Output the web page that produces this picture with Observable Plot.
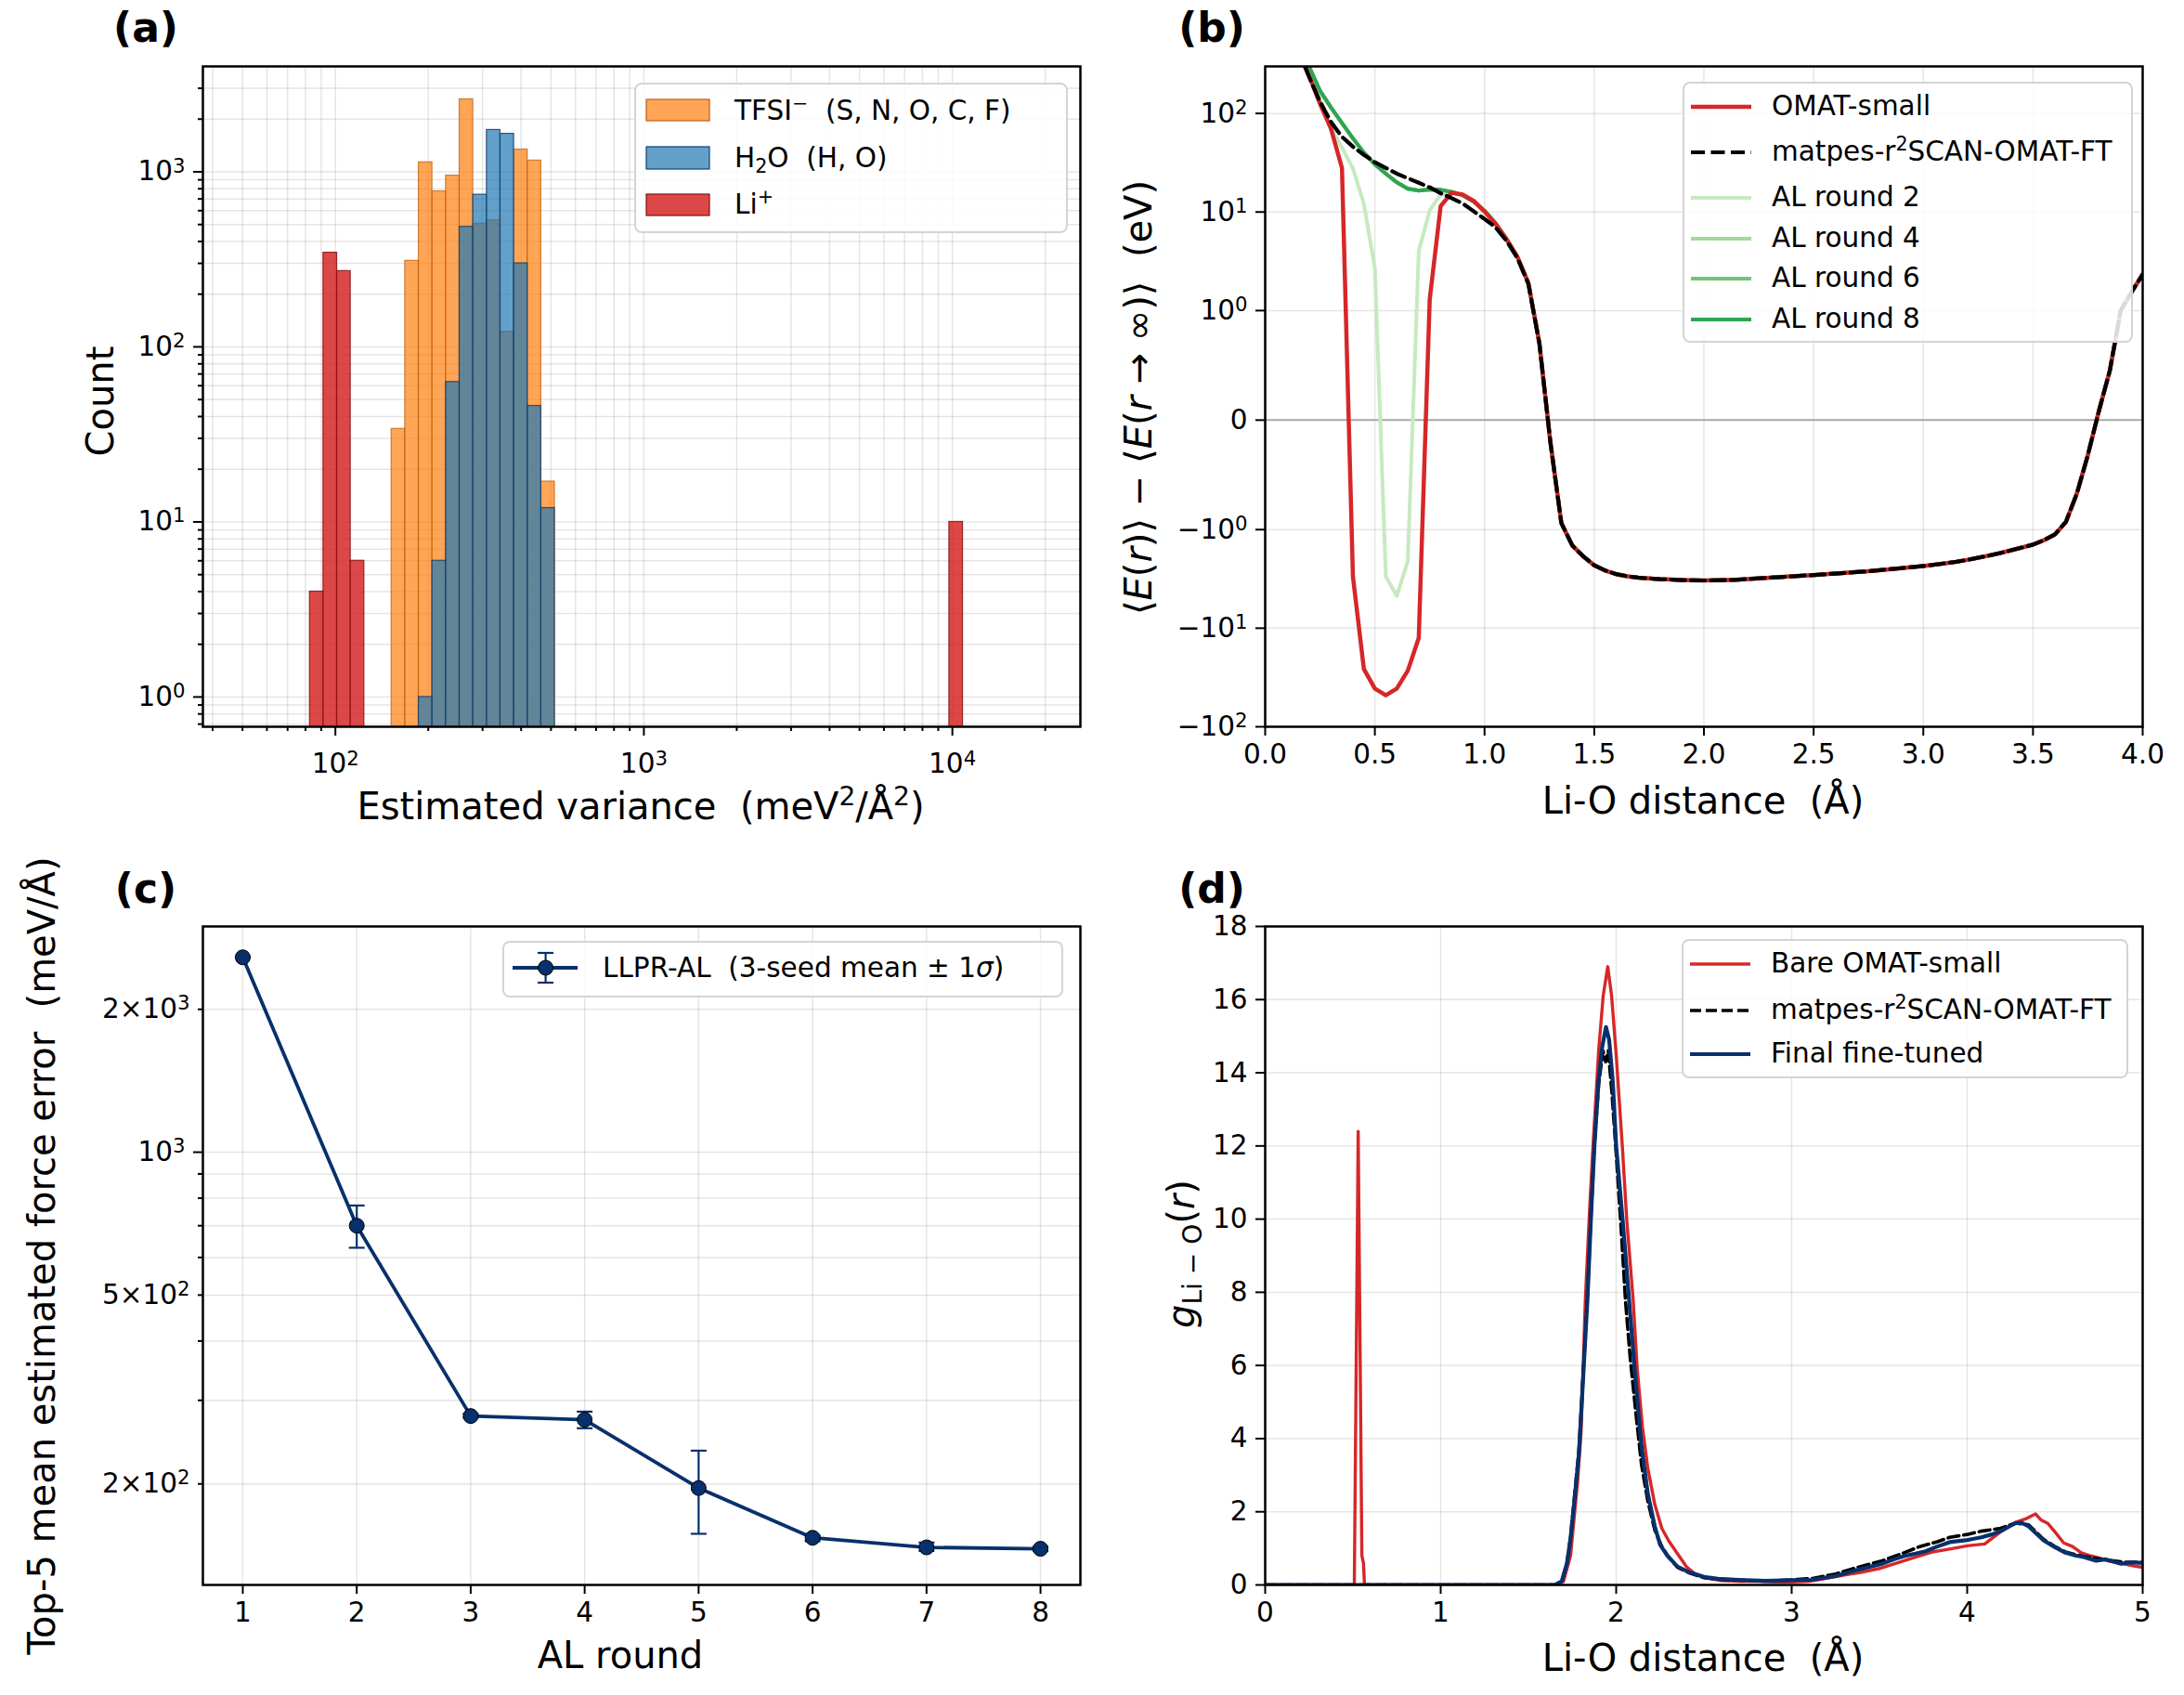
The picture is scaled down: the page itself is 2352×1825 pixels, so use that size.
<!DOCTYPE html>
<html><head><meta charset="utf-8">
<script src="https://cdn.jsdelivr.net/npm/d3@7"></script>
<script src="https://cdn.jsdelivr.net/npm/@observablehq/plot@0.6"></script>
<style>
body{margin:0;background:#fff;}
#fig{position:relative;width:2352px;height:1825px;font-family:"DejaVu Sans",sans-serif;color:#000;overflow:hidden;background:#fff}
.lab{position:absolute;white-space:pre;transform:translate(-50%,-50%);font-size:40px;line-height:1}
.rot{transform:translate(-50%,-50%) rotate(-90deg)}
.plab{position:absolute;font-weight:bold;font-size:44px;transform:translate(-50%,-50%);line-height:0.8}
.leg{position:absolute;background:rgba(255,255,255,0.85);border:2px solid #d4d4d4;border-radius:8px;box-sizing:border-box}
.lt{position:absolute;font-size:29.5px;white-space:pre;transform:translateY(-50%);line-height:1}
sup{font-size:70%;vertical-align:0.55em;line-height:0}
sub{font-size:70%;vertical-align:-0.3em;line-height:0}
</style></head><body><div id="fig"></div><script>
// ---------------- DATA ----------------
// (a) histogram of estimated variance, shared log-spaced bins
const tfsiLo = [152.1,168.4,186.4,206.3,228.4,252.8,279.8,309.8,342.8,379.5,420.1,464.9];
const tfsiHi = [168.4,186.4,206.3,228.4,252.8,279.8,309.8,342.8,379.5,420.1,464.9,514.6];
const tfsiCount = [34,310,1133,774,951,2595,505,528,122,1340,1159,17];
const h2oLo = [186.4,206.3,228.4,252.8,279.8,309.8,342.8,379.5,420.1,464.9];
const h2oHi = [206.3,228.4,252.8,279.8,309.8,342.8,379.5,420.1,464.9,514.6];
const h2oCount = [1,6,63,485,740,1734,1648,300,46,12];
const liLo = [82.7,91.5,101.3,112.1,9777];
const liHi = [91.5,101.3,112.1,124.1,10822];
const liCount = [4,345,271,6,10];

// (b) binding curves (eV) on r grid (Å)
const rB = [0.15,0.20,0.25,0.30,0.35,0.40,0.45,0.50,0.55,0.60,0.65,0.70,0.75,0.80,0.85,0.90,0.95,1.00,1.05,1.10,1.15,1.20,
 1.25,1.30,1.35,1.40,1.45,1.50,1.55,1.60,1.65,1.70,1.75,1.80,1.85,1.90,1.95,2.00,2.05,2.10,2.15,2.20,2.25,2.30,2.35,2.40,2.45,2.50,
 2.55,2.60,2.65,2.70,2.75,2.80,2.85,2.90,2.95,3.00,3.05,3.10,3.15,3.20,3.25,3.30,3.35,3.40,3.45,3.50,3.55,3.60,3.65,3.70,3.75,3.80,3.85,3.90,3.95,4.00];
const tailB = [0.7,-0.2,-0.94,-1.45,-1.87,-2.3,-2.6,-2.83,-2.97,-3.07,-3.13,-3.18,-3.21,-3.25,-3.27,-3.28,-3.27,-3.25,-3.22,-3.17,-3.12,-3.07,-3.03,-2.98,-2.93,-2.89,
 -2.84,-2.79,-2.74,-2.69,-2.64,-2.58,-2.52,-2.46,-2.40,-2.34,-2.27,-2.20,-2.12,-2.03,-1.93,-1.83,-1.73,-1.62,-1.52,-1.42,-1.28,-1.12,-0.93,-0.67,-0.32,0.08,0.45,1.0,1.55,2.33];
const omatHead = [420,240,125,70,28,-3.0,-26,-41,-48,-41,-27,-12.6,1.3,11.5,15.7,15.0,13.0,10.1,7.6,5.3,3.5,1.9];
const matpesHead = [450,235,132,82,58,46,38,32,28,24.5,22,19.8,17.8,15.5,13.8,12.2,10.2,8.5,7.0,5.1,3.4,1.85];
const al2Head = [480,260,140,72,45,27.7,12.1,2.7,-3.0,-4.7,-2.1,4.0,10.4,15.0,15.7,15.0,13.0,10.1,7.6,5.3,3.5,1.9];
const al4Head = [515,298,168,114,79,55.5,40,30.5,24.5,20,17.3,16.6,16.9,16.8,16.0,14.8,12.8,10.3,7.7,5.35,3.5,1.9];
const al6Head = [518,299,169,115,80,56,40,30.5,24.5,20,17.2,16.5,16.9,16.8,16.0,14.8,12.8,10.3,7.7,5.35,3.5,1.9];
const al8Head = [520,300,170,115,80,56,40,30.5,24.5,20,17.2,16.5,16.9,16.8,16.0,14.8,12.8,10.3,7.7,5.35,3.5,1.9];

// (c) AL rounds
const rounds = [1,2,3,4,5,6,7,8];
const errMean = [2574,700,278,273,196,154,147,146];
const errLo = [2574,629,276,262,157,151.5,144.5,144.5];
const errHi = [2574,772,281,284,235,156,150.5,147.5];

// (d) RDF g_Li-O(r)
const rRed = [0,0.50,0.508,0.53,0.551,0.56,0.566,1.65,1.70,1.74,1.78,1.80,1.824,1.85,1.868,1.90,1.926,1.952,1.974,2.0,2.035,2.06,2.097,2.12,2.15,2.18,2.22,2.26,2.30,2.35,2.40,2.45,2.50,2.60,2.70,2.80,2.90,3.00,3.10,3.20,3.30,3.40,3.50,3.60,3.70,3.80,3.90,4.00,4.10,4.19,4.24,4.28,4.34,4.39,4.42,4.46,4.50,4.55,4.60,4.65,4.70,4.75,4.80,4.85,4.90,4.95,5.00];
const gRed = [0,0,0,12.4,0.8,0.6,0,0,0.1,0.8,2.8,4.2,7.77,10.4,12.0,14.6,16.1,16.9,16.1,14.5,12.0,10.0,7.77,5.9,4.3,3.2,2.2,1.55,1.2,0.85,0.5,0.3,0.2,0.12,0.1,0.1,0.08,0.08,0.1,0.18,0.27,0.35,0.45,0.6,0.75,0.9,0.98,1.07,1.12,1.45,1.6,1.72,1.82,1.94,1.78,1.68,1.45,1.15,1.05,0.88,0.8,0.74,0.66,0.62,0.57,0.52,0.48];
const rBlue = [0,1.65,1.69,1.72,1.74,1.76,1.788,1.81,1.836,1.856,1.876,1.90,1.92,1.942,1.96,1.98,2.0,2.04,2.08,2.11,2.144,2.18,2.22,2.25,2.29,2.35,2.42,2.50,2.58,2.70,2.85,3.0,3.11,3.25,3.375,3.45,3.516,3.58,3.64,3.70,3.763,3.83,3.90,3.99,4.08,4.14,4.19,4.24,4.276,4.31,4.35,4.39,4.435,4.50,4.56,4.62,4.66,4.735,4.79,4.876,4.94,5.0];
const gBlue = [0,0,0.1,0.6,1.28,2.2,3.6,5.5,7.77,10.0,12.0,13.8,14.7,15.25,14.9,13.8,12.0,9.8,7.4,5.6,3.8,2.5,1.6,1.1,0.81,0.5,0.34,0.22,0.17,0.14,0.11,0.13,0.14,0.24,0.41,0.5,0.58,0.7,0.79,0.85,0.92,1.05,1.17,1.22,1.3,1.38,1.47,1.6,1.69,1.7,1.6,1.42,1.22,1.03,0.88,0.8,0.77,0.66,0.7,0.58,0.62,0.6];
const rBlack = [0,1.65,1.69,1.72,1.74,1.76,1.788,1.81,1.836,1.856,1.876,1.90,1.925,1.94,1.955,1.975,2.0,2.03,2.053,2.08,2.11,2.144,2.18,2.22,2.26,2.30,2.35,2.42,2.50,2.60,2.75,2.90,3.0,3.12,3.25,3.375,3.516,3.64,3.73,3.83,3.90,4.0,4.08,4.19,4.276,4.35,4.435,4.50,4.56,4.66,4.8,4.9,5.0];
const gBlack = [0,0,0.1,0.6,1.3,2.3,3.7,5.6,7.9,10.1,12.0,13.7,14.6,14.3,14.6,13.5,11.8,9.6,7.77,6.2,4.8,3.3,2.3,1.5,1.05,0.75,0.48,0.32,0.2,0.15,0.12,0.12,0.14,0.18,0.3,0.48,0.66,0.88,1.05,1.18,1.3,1.38,1.47,1.55,1.69,1.64,1.25,1.05,0.9,0.78,0.68,0.62,0.62];

// ---------------- HELPERS ----------------
const fig = document.getElementById("fig");
const F = "DejaVu Sans";
const SUP = {"⁰":"0","¹":"1","²":"2","³":"3","⁴":"4"};
function supFix(svg){
  svg.querySelectorAll("text").forEach(t=>{
    const s = t.textContent;
    const m = s.match(/^(.*?)([⁰¹²³⁴]+)$/);
    if (!m) return;
    const digits = [...m[2]].map(c=>SUP[c]).join("");
    t.textContent = "";
    t.appendChild(document.createTextNode(m[1]));
    const ts = document.createElementNS("http://www.w3.org/2000/svg","tspan");
    ts.setAttribute("dy","-0.42em"); ts.setAttribute("font-size","0.72em"); ts.textContent = digits;
    t.appendChild(ts);
  });
}
function place(svg, left, top){ supFix(svg); svg.style.position="absolute"; svg.style.left=left+"px"; svg.style.top=top+"px"; fig.appendChild(svg); }
function el(cls, style, inner){ const e=document.createElement("div"); if(cls) e.className=cls; Object.assign(e.style, style); e.innerHTML=inner; fig.appendChild(e); return e; }
function svgEl(x,y,w,h,inner){ const e=document.createElement("div"); e.style.position="absolute"; e.style.left=x+"px"; e.style.top=y+"px"; e.innerHTML=`<svg width="${w}" height="${h}" style="display:block;overflow:visible">${inner}</svg>`; fig.appendChild(e); }
const baseStyle = {fontFamily: F, fontSize: "29.5px", background: "transparent", overflow: "visible", color: "black"};
const GRID = {stroke: "#000", strokeOpacity: 0.1, strokeWidth: 1.5};
const AX = {fontSize: 29.5, strokeWidth: 2, tickPadding: 9, label: null};
const none = () => "";
const supLab = {1:"10⁰",10:"10¹",100:"10²",1000:"10³",10000:"10⁴"};

// ---------------- PANEL (a) ----------------
const aMajX=[100,1000,10000];
const aMinX=[40,50,60,70,80,90,200,300,400,500,600,700,800,900,2000,3000,4000,5000,6000,7000,8000,9000,20000];
const aMajY=[1,10,100,1000];
const aMinY=[0.7,0.8,0.9,2,3,4,5,6,7,8,9,20,30,40,50,60,70,80,90,200,300,400,500,600,700,800,900,2000,3000];
const bars = (lo,hi,n) => lo.map((d,i)=>({lo:d,hi:hi[i],n:n[i]}));
place(Plot.plot({
  width:1176,height:913,marginLeft:218,marginRight:13,marginTop:71,marginBottom:131,
  x:{type:"log",domain:[37.2,26000]}, y:{type:"log",domain:[0.676,4000]}, style:baseStyle,
  marks:[
    Plot.gridX(aMajX.concat(aMinX), GRID),
    Plot.gridY(aMajY.concat(aMinY), GRID),
    Plot.rect(bars(tfsiLo,tfsiHi,tfsiCount),{x1:"lo",x2:"hi",y1:0.3,y2:"n",fill:"#ff7f0e",fillOpacity:0.7,stroke:"#c0600c",strokeOpacity:0.75,strokeWidth:1.2,clip:true}),
    Plot.rect(bars(h2oLo,h2oHi,h2oCount),{x1:"lo",x2:"hi",y1:0.3,y2:"n",fill:"#1f77b4",fillOpacity:0.7,stroke:"#173f6e",strokeOpacity:0.85,strokeWidth:1.2,clip:true}),
    Plot.rect(bars(liLo,liHi,liCount),{x1:"lo",x2:"hi",y1:0.3,y2:"n",fill:"#d62728",fillOpacity:0.85,stroke:"#8a1010",strokeOpacity:0.85,strokeWidth:1.2,clip:true}),
    Plot.axisX({...AX,ticks:aMajX,tickSize:10,tickPadding:19,tickFormat:d=>supLab[d]}),
    Plot.axisX({...AX,ticks:aMinX,tickSize:5,tickFormat:none}),
    Plot.axisY({...AX,ticks:aMajY,tickSize:10,tickFormat:d=>supLab[d]}),
    Plot.axisY({...AX,ticks:aMinY,tickSize:5,tickFormat:none}),
    Plot.frame({stroke:"black",strokeWidth:2.5})
  ]
}), 0, 0);

// ---------------- PANEL (b) ----------------
const LS = 1/(1-0.1);
const sym = v => Math.sign(v)*(Math.abs(v)<=1 ? Math.abs(v)*LS : LS+Math.log10(Math.abs(v)));
const bTickV = [-100,-10,-1,0,1,10,100];
const bTickL = ["−10²","−10¹","−10⁰","0","10⁰","10¹","10²"];
const bLabMap = new Map(bTickV.map((v,i)=>[sym(v).toFixed(5), bTickL[i]]));
const bX = [0,0.5,1,1.5,2,2.5,3,3.5,4];
const ser = head => rB.map((r,i)=>({r, v: head.concat(tailB)[i]}));
const lineB = (head, o) => Plot.line(ser(head), {x:"r", y:d=>sym(d.v), clip:true, strokeLinejoin:"round", ...o});
place(Plot.plot({
  width:1176,height:913,marginLeft:186,marginRight:45,marginTop:71,marginBottom:131,
  x:{domain:[0,4]}, y:{domain:[sym(-100), sym(300)]}, style:baseStyle,
  marks:[
    Plot.gridX(bX, GRID),
    Plot.gridY(bTickV.map(sym), GRID),
    Plot.ruleY([0], {stroke:"#a8a8a8", strokeWidth:2}),
    lineB(al2Head, {stroke:"#c7e9c0", strokeWidth:4}),
    lineB(al4Head, {stroke:"#a1d99b", strokeWidth:4}),
    lineB(al6Head, {stroke:"#74c476", strokeWidth:4}),
    lineB(al8Head, {stroke:"#31a354", strokeWidth:4}),
    lineB(omatHead, {stroke:"#d62728", strokeWidth:4.5}),
    lineB(matpesHead, {stroke:"#000", strokeWidth:4.2, strokeDasharray:"15,6.5"}),
    Plot.axisX({...AX,ticks:bX,tickSize:10,tickFormat:d3.format(".1f")}),
    Plot.axisY({...AX,ticks:bTickV.map(sym),tickSize:10,tickFormat:d=>bLabMap.get(d.toFixed(5))}),
    Plot.frame({stroke:"black",strokeWidth:2.5})
  ]
}), 1176, 0);

// ---------------- PANEL (c) ----------------
const cMinY=[300,400,600,700,800,900];
const capSym = {draw(ctx){ ctx.moveTo(-8.5,0); ctx.lineTo(8.5,0); }};
const cData = rounds.map((x,i)=>({x, m:errMean[i], lo:errLo[i], hi:errHi[i]}));
const cLab = {200:"2×10²",500:"5×10²",1000:"10³",2000:"2×10³"};
place(Plot.plot({
  width:1176,height:912,marginLeft:218,marginRight:13,marginTop:84,marginBottom:119,
  x:{domain:[0.65,8.35]}, y:{type:"log",domain:[122.5,2990]}, style:baseStyle,
  marks:[
    Plot.gridX(rounds, GRID),
    Plot.gridY([200,300,400,500,600,700,800,900,1000,2000], GRID),
    Plot.ruleX(cData,{x:"x",y1:"lo",y2:"hi",stroke:"#08306b",strokeWidth:2.2}),
    Plot.dot(cData,{x:"x",y:"lo",symbol:capSym,stroke:"#08306b",strokeWidth:2.2,fill:"none"}),
    Plot.dot(cData,{x:"x",y:"hi",symbol:capSym,stroke:"#08306b",strokeWidth:2.2,fill:"none"}),
    Plot.line(cData,{x:"x",y:"m",stroke:"#08306b",strokeWidth:3.8}),
    Plot.dot(cData,{x:"x",y:"m",r:8,fill:"#08306b",stroke:"#000",strokeWidth:1}),
    Plot.axisX({...AX,ticks:rounds,tickSize:10,tickFormat:d=>String(d)}),
    Plot.axisY({...AX,ticks:[1000],tickSize:10,tickFormat:d=>cLab[d]}),
    Plot.axisY({...AX,ticks:[200,500,2000],tickSize:5,tickFormat:d=>cLab[d]}),
    Plot.axisY({...AX,ticks:cMinY,tickSize:5,tickFormat:none}),
    Plot.frame({stroke:"black",strokeWidth:2.5})
  ]
}), 0, 913);

// ---------------- PANEL (d) ----------------
const dX=[0,1,2,3,4,5], dY=[0,2,4,6,8,10,12,14,16,18];
const pts = (r,g) => r.map((x,i)=>({x, g:g[i]}));
place(Plot.plot({
  width:1176,height:912,marginLeft:186,marginRight:45,marginTop:84,marginBottom:119,
  x:{domain:[0,5]}, y:{domain:[0,18]}, style:baseStyle,
  marks:[
    Plot.gridX(dX, GRID),
    Plot.gridY(dY, GRID),
    Plot.line(pts(rRed,gRed),{x:"x",y:"g",stroke:"#d62728",strokeWidth:3.4,clip:true}),
    Plot.line(pts(rBlack,gBlack),{x:"x",y:"g",stroke:"#000",strokeWidth:3.6,strokeDasharray:"12,5",clip:true}),
    Plot.line(pts(rBlue,gBlue),{x:"x",y:"g",stroke:"#08306b",strokeWidth:4.2,clip:true}),
    Plot.axisX({...AX,ticks:dX,tickSize:10,tickFormat:d=>String(d)}),
    Plot.axisY({...AX,ticks:dY,tickSize:10,tickFormat:d=>String(d)}),
    Plot.frame({stroke:"black",strokeWidth:2.5})
  ]
}), 1176, 913);

// ---------------- TEXT: panel labels & axis labels ----------------
el("plab",{left:"157px",top:"30px"},"(a)");
el("plab",{left:"1305px",top:"30px"},"(b)");
el("plab",{left:"157px",top:"957px"},"(c)");
el("plab",{left:"1305px",top:"957px"},"(d)");
el("lab",{left:"690px",top:"868px"},"Estimated variance  (meV<sup>2</sup>/Å<sup>2</sup>)");
el("lab rot",{left:"108px",top:"432px"},"Count");
el("lab",{left:"1834px",top:"862px"},"Li-O distance  (Å)");
el("lab rot",{left:"1226px",top:"428px"},"⟨<i>E</i>(<i>r</i>)⟩ − ⟨<i>E</i>(<i>r</i> → ∞)⟩  (eV)");
el("lab",{left:"668px",top:"1782px"},"AL round");
el("lab rot",{left:"45px",top:"1352px"},"Top-5 mean estimated force error  (meV/Å)");
el("lab",{left:"1834px",top:"1785px"},"Li-O distance  (Å)");
el("lab rot",{left:"1272px",top:"1350px"},"<i>g</i><sub>Li − O</sub>(<i>r</i>)");

// ---------------- LEGENDS ----------------
// (a)
el("leg",{left:"683px",top:"89px",width:"467px",height:"162px"},"");
svgEl(696,107,68,24,`<rect x="0" y="0" width="68" height="23" fill="#ff7f0e" fill-opacity="0.7" stroke="#c0600c" stroke-width="1.2"/>`);
svgEl(696,158,68,25,`<rect x="0" y="0" width="68" height="24" fill="#1f77b4" fill-opacity="0.7" stroke="#173f6e" stroke-width="1.2"/>`);
svgEl(696,209,68,24,`<rect x="0" y="0" width="68" height="23" fill="#d62728" fill-opacity="0.85" stroke="#8a1010" stroke-width="1.2"/>`);
el("lt",{left:"791px",top:"120px"},"TFSI<sup>−</sup>  (S, N, O, C, F)");
el("lt",{left:"791px",top:"171px"},"H<sub>2</sub>O  (H, O)");
el("lt",{left:"791px",top:"221px"},"Li<sup>+</sup>");
// (b)
el("leg",{left:"1812px",top:"88px",width:"485px",height:"281px"},"");
const bLeg = [
  [115,"#d62728","","OMAT-small",4.5],
  [164,"#000","15,6.5","matpes-r<sup>2</sup>SCAN-OMAT-FT",4.2],
  [213,"#c7e9c0","","AL round 2",4],
  [256.5,"#a1d99b","","AL round 4",4],
  [300,"#74c476","","AL round 6",4],
  [344,"#31a354","","AL round 8",4]
];
for (const [cy,c,dash,t,w] of bLeg){
  svgEl(1821,cy-5,66,10,`<line x1="0" x2="65" y1="5" y2="5" stroke="${c}" stroke-width="${w}" ${dash?`stroke-dasharray="${dash}"`:""}/>`);
  el("lt",{left:"1908px",top:cy+"px"},t);
}
// (c)
el("leg",{left:"541px",top:"1013px",width:"604px",height:"61px"},"");
svgEl(552,1024,72,36,`<line x1="0" x2="70" y1="18" y2="18" stroke="#08306b" stroke-width="3.8"/>
<line x1="35.6" x2="35.6" y1="2" y2="34" stroke="#08306b" stroke-width="2.2"/>
<line x1="27" x2="44" y1="2" y2="2" stroke="#08306b" stroke-width="2.2"/>
<line x1="27" x2="44" y1="34" y2="34" stroke="#08306b" stroke-width="2.2"/>
<circle cx="35.6" cy="18" r="8" fill="#08306b" stroke="#000" stroke-width="1"/>`);
el("lt",{left:"649px",top:"1043px"},"LLPR-AL  (3-seed mean ± 1<i>σ</i>)");
// (d)
el("leg",{left:"1811px",top:"1011px",width:"481px",height:"150px"},"");
const dLeg = [
  [1038,"#d62728","","Bare OMAT-small",3.6],
  [1088,"#000","12,5","matpes-r<sup>2</sup>SCAN-OMAT-FT",3.6],
  [1135,"#08306b","","Final fine-tuned",4.2]
];
for (const [cy,c,dash,t,w] of dLeg){
  svgEl(1820,cy-5,66,10,`<line x1="0" x2="65" y1="5" y2="5" stroke="${c}" stroke-width="${w}" ${dash?`stroke-dasharray="${dash}"`:""}/>`);
  el("lt",{left:"1907px",top:cy+"px"},t);
}
</script></body></html>
